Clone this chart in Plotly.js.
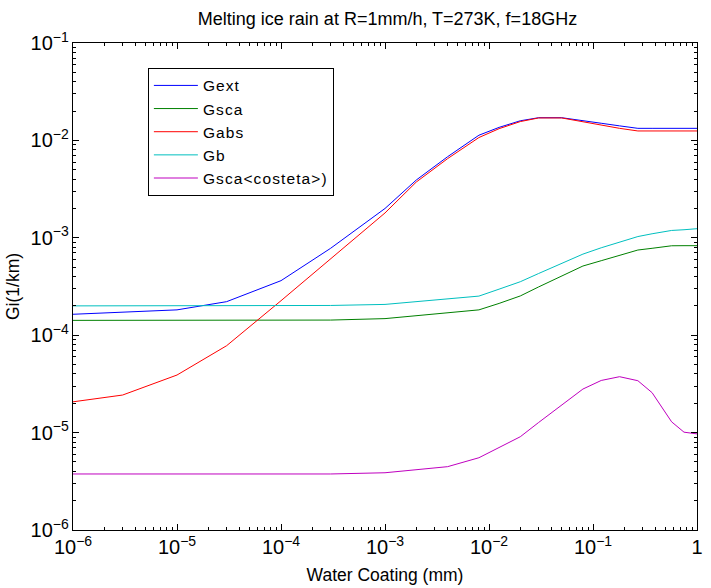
<!DOCTYPE html>
<html>
<head>
<meta charset="utf-8">
<script src="https://cdn.plot.ly/plotly-3.0.1.min.js"></script>
<style>html,body{margin:0;padding:0;background:#fff;}#chart{width:711px;height:588px;}
.legendtext{letter-spacing:1.1px;}
</style>
</head>
<body>
<div id="chart"></div>
<script>
const waterCoating = [1e-6, 3e-6, 1e-5, 3e-5, 1e-4, 3e-4, 1e-3, 2e-3, 4e-3, 8e-3, 0.0125, 0.02, 0.03, 0.05, 0.08, 0.12, 0.18, 0.27, 0.37, 0.57, 0.75, 1.0];
const gext = [1.64e-4, 1.71e-4, 1.82e-4, 2.21e-4, 3.63e-4, 7.8e-4, 2.0e-3, 3.92e-3, 6.8e-3, 1.13e-2, 1.36e-2, 1.59e-2, 1.71e-2, 1.71e-2, 1.58e-2, 1.50e-2, 1.41e-2, 1.33e-2, 1.33e-2, 1.33e-2, 1.33e-2, 1.33e-2];
const gsca = [1.42e-4, 1.42e-4, 1.42e-4, 1.42e-4, 1.42e-4, 1.43e-4, 1.48e-4, 1.59e-4, 1.69e-4, 1.82e-4, 2.12e-4, 2.53e-4, 3.13e-4, 4.07e-4, 5.13e-4, 5.82e-4, 6.59e-4, 7.49e-4, 7.8e-4, 8.28e-4, 8.3e-4, 8.3e-4];
const gabs = [2.07e-5, 2.43e-5, 3.9e-5, 7.8e-5, 2.26e-4, 6.1e-4, 1.8e-3, 3.74e-3, 6.5e-3, 1.07e-2, 1.32e-2, 1.56e-2, 1.70e-2, 1.70e-2, 1.55e-2, 1.42e-2, 1.33e-2, 1.25e-2, 1.25e-2, 1.25e-2, 1.25e-2, 1.25e-2];
const gb = [2.0e-4, 2.0e-4, 2.0e-4, 2.0e-4, 2.0e-4, 2.02e-4, 2.07e-4, 2.2e-4, 2.36e-4, 2.52e-4, 2.97e-4, 3.54e-4, 4.3e-4, 5.5e-4, 6.8e-4, 7.9e-4, 9.0e-4, 1.03e-3, 1.1e-3, 1.19e-3, 1.21e-3, 1.24e-3];
const gscaCos = [3.76e-6, 3.76e-6, 3.76e-6, 3.76e-6, 3.76e-6, 3.76e-6, 3.87e-6, 4.16e-6, 4.47e-6, 5.52e-6, 7.06e-6, 9.07e-6, 1.27e-5, 1.91e-5, 2.8e-5, 3.43e-5, 3.75e-5, 3.41e-5, 2.57e-5, 1.29e-5, 1.01e-5, 9.7e-6];

const seriesNames = ["Gext", "Gsca", "Gabs", "Gb", "Gsca<costeta>)"];
const seriesValues = [gext, gsca, gabs, gb, gscaCos];
const seriesColors = ["#0000ff", "#008000", "#ff0000", "#00bfbf", "#bf00bf"];

const traces = seriesNames.map((n, i) => ({
  x: waterCoating, y: seriesValues[i], name: n, type: "scatter", mode: "lines",
  line: {color: seriesColors[i], width: 1}
}));

const fontFam = "Liberation Sans, Arial, sans-serif";
const axisCommon = {
  type: "log", showgrid: false, zeroline: false, showline: true, linecolor: "#000", linewidth: 1,
  mirror: "ticks", ticks: "inside", ticklen: 6, tickcolor: "#000", dtick: 1,
  exponentformat: "power", tickfont: {family: fontFam, size: 16, color: "#000"},
  minor: {ticks: "inside", ticklen: 3, tickcolor: "#000", dtick: "D1", showgrid: false}
};

const layout = {
  width: 711, height: 588,
  margin: {l: 73, r: 14, t: 43, b: 58},
  paper_bgcolor: "#fff", plot_bgcolor: "#fff",
  font: {family: fontFam, color: "#000"},
  title: {text: "Melting ice rain at R=1mm/h, T=273K, f=18GHz", font: {family: fontFam, size: 18, color: "#000"}, x: 0.545, xanchor: "center", y: 0.968, yanchor: "middle"},
  xaxis: Object.assign({}, axisCommon, {range: [-6, 0], title: {text: "Water Coating (mm)", font: {family: fontFam, size: 17.5}, standoff: 11}}),
  yaxis: Object.assign({}, axisCommon, {range: [-6, -1], title: {text: "Gi(1/km)", font: {family: fontFam, size: 17.5}, standoff: 6}}),
  showlegend: true,
  legend: {x: 0.12, y: 0.949, xanchor: "left", yanchor: "top", bgcolor: "#fff", bordercolor: "#000", borderwidth: 1,
    font: {family: fontFam, size: 15.5, color: "#000"}, tracegroupgap: 0, itemwidth: 44}
};

Plotly.newPlot("chart", traces, layout, {displayModeBar: false, staticPlot: true});
</script>
</body>
</html>
